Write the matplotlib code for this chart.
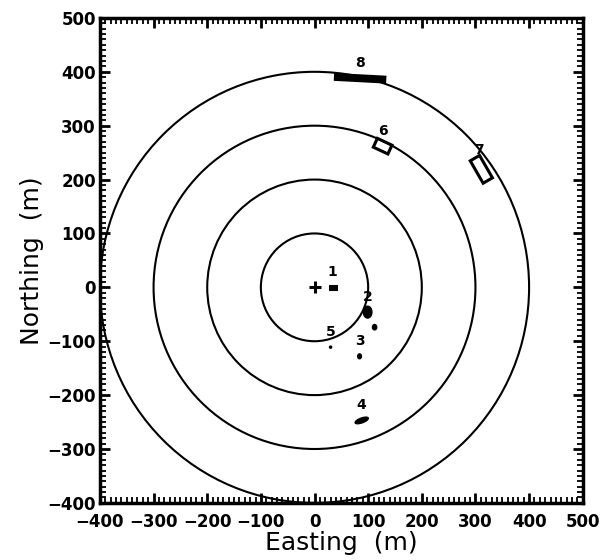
import numpy as np
import matplotlib
matplotlib.use("Agg")
import matplotlib.pyplot as plt
from matplotlib.patches import Rectangle, Ellipse, Circle
from matplotlib.ticker import MultipleLocator

# data
radii = [100, 200, 300, 400]
site_labels = ["1", "2", "3", "4", "5", "6", "7", "8"]
site_x = [34, 99, 84, 88, 30, 127, 311, 85]
site_y = [0, -46, -128, -247, -111, 262, 219, 388]
extra_x = [112]
extra_y = [-74]
ticks = [-400, -300, -200, -100, 0, 100, 200, 300, 400, 500]

fig = plt.figure(figsize=(6.02, 5.6), dpi=100)
ax = fig.add_axes([0.166, 0.102, 0.802, 0.866])

for r in radii:
    ax.add_patch(Circle((0, 0), r, facecolor="none", edgecolor="black", lw=1.5))

ax.plot(0, 0, marker="+", color="black", ms=8, mew=2.2)

# marks for each site
shape = {
    "1": ("rect", 12, 6, 0, True),
    "2": ("ell", 16, 22, 0, True),
    "3": ("ell", 7, 9, 0, True),
    "4": ("ell", 26, 9, 20, True),
    "5": ("ell", 4, 4, 0, True),
    "6": ("rect", 30, 18, -25, False),
    "7": ("rect", 20, 48, 30, False),
    "8": ("rect", 92, 9, -3, True),
}
for lab, x, y in zip(site_labels, site_x, site_y):
    kind, w, h, ang, fill = shape[lab]
    if kind == "rect":
        p = Rectangle((x - w / 2, y - h / 2), w, h, angle=ang, rotation_point="center",
                      facecolor="black" if fill else "none", edgecolor="black", lw=2.2)
    else:
        p = Ellipse((x, y), w, h, angle=ang, facecolor="black", edgecolor="black", lw=1)
    ax.add_patch(p)
    dy = 28 if lab != "7" else 36
    dx = 0 if lab != "7" else -4
    ax.text(x + dx, y + dy, lab, ha="center", va="center", fontsize=10, fontweight="bold")

for x, y in zip(extra_x, extra_y):
    ax.add_patch(Ellipse((x, y), 8, 10, facecolor="black", edgecolor="black"))

ax.set_xlim(-400, 500)
ax.set_ylim(-400, 500)
ax.set_xticks(ticks)
ax.set_yticks(ticks)
ax.set_xticklabels([str(t).replace("-", "\u2212") for t in ticks])
ax.set_yticklabels([str(t).replace("-", "\u2212") for t in ticks])
ax.xaxis.set_minor_locator(MultipleLocator(10))
ax.yaxis.set_minor_locator(MultipleLocator(10))
ax.tick_params(which="both", direction="in", top=True, right=True, color="black")
ax.tick_params(which="major", length=7, width=2, labelsize=12)
ax.tick_params(axis="x", which="major", pad=7)
ax.tick_params(axis="y", which="major", pad=3)
ax.tick_params(which="minor", length=4, width=1.3)
for lbl in ax.get_xticklabels() + ax.get_yticklabels():
    lbl.set_fontweight("bold")
for s in ax.spines.values():
    s.set_linewidth(2.5)

ax.set_xlabel("Easting  (m)", fontsize=18, labelpad=0)
ax.set_ylabel("Northing  (m)", fontsize=18, labelpad=2)

fig.savefig("out.png", dpi=100)
